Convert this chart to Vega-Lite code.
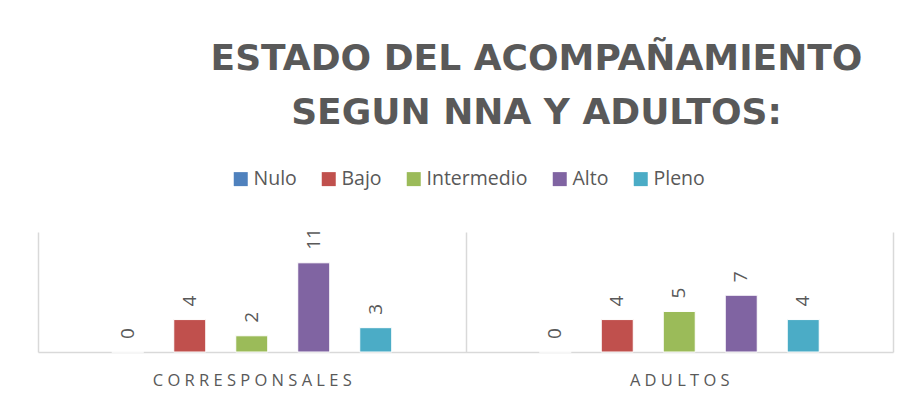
{
  "$schema": "https://vega.github.io/schema/vega-lite/v6.json",
  "width": 855,
  "height": 120,
  "autosize": {"type": "none"},
  "padding": {"left": 38, "top": 232, "right": 13, "bottom": 51},
  "background": "white",
  "title": {
    "text": ["ESTADO DEL ACOMPAÑAMIENTO", "SEGUN NNA Y ADULTOS:"],
    "font": "DejaVu Sans",
    "fontWeight": "bold",
    "fontSize": 36,
    "color": "#595959",
    "lineHeight": 54,
    "anchor": "middle",
    "frame": "group",
    "dx": 71,
    "baseline": "alphabetic",
    "offset": 9
  },
  "data": {
    "values": [
      {"grupo": "CORRESPONSALES", "nivel": "Nulo", "valor": 0},
      {"grupo": "CORRESPONSALES", "nivel": "Bajo", "valor": 4},
      {"grupo": "CORRESPONSALES", "nivel": "Intermedio", "valor": 2},
      {"grupo": "CORRESPONSALES", "nivel": "Alto", "valor": 11},
      {"grupo": "CORRESPONSALES", "nivel": "Pleno", "valor": 3},
      {"grupo": "ADULTOS", "nivel": "Nulo", "valor": 0},
      {"grupo": "ADULTOS", "nivel": "Bajo", "valor": 4},
      {"grupo": "ADULTOS", "nivel": "Intermedio", "valor": 5},
      {"grupo": "ADULTOS", "nivel": "Alto", "valor": 7},
      {"grupo": "ADULTOS", "nivel": "Pleno", "valor": 4}
    ]
  },
  "encoding": {
    "x": {
      "field": "grupo",
      "type": "nominal",
      "sort": ["CORRESPONSALES", "ADULTOS"],
      "scale": {"paddingInner": 0, "paddingOuter": 0},
      "axis": {
        "title": null,
        "labelAngle": 0,
        "ticks": false,
        "grid": true,
        "tickBand": "extent",
        "gridColor": "#d9d9d9",
        "gridWidth": 1.5,
        "domainColor": "#d9d9d9",
        "domainWidth": 1.5,
        "labelFont": "Open Sans",
        "labelFontSize": 16.5,
        "labelColor": "#595959",
        "labelPadding": 20,
        "labelBaseline": "top",
        "labelLimit": 500,
        "labelExpr": "join(split(datum.label, ''), ' ')"
      }
    },
    "xOffset": {
      "field": "nivel",
      "type": "nominal",
      "scale": {
        "domain": ["_inicio", "Nulo", "Bajo", "Intermedio", "Alto", "Pleno", "_fin"],
        "paddingInner": 0.484,
        "paddingOuter": 0.19
      }
    },
    "y": {
      "field": "valor",
      "type": "quantitative",
      "scale": {"domain": [0, 14.8], "nice": false},
      "axis": null
    }
  },
  "layer": [
    {
      "mark": {"type": "bar", "stroke": "white", "strokeWidth": 1},
      "encoding": {
        "color": {
          "field": "nivel",
          "type": "nominal",
          "scale": {
            "domain": ["Nulo", "Bajo", "Intermedio", "Alto", "Pleno"],
            "range": ["#4f81bd", "#c0504d", "#9bbb59", "#8064a2", "#4bacc6"]
          },
          "legend": {
            "title": null,
            "orient": "none",
            "direction": "horizontal",
            "legendX": 193,
            "legendY": -63,
            "padding": 0,
            "symbolType": "square",
            "symbolSize": 196,
            "symbolStrokeWidth": 0,
            "symbolOpacity": 1,
            "labelFont": "Open Sans",
            "labelFontSize": 19.5,
            "labelColor": "#595959",
            "labelOffset": 3,
            "columnPadding": 22
          }
        }
      }
    },
    {
      "mark": {
        "type": "text",
        "angle": 270,
        "align": "left",
        "baseline": "middle",
        "dx": 13,
        "font": "Open Sans",
        "fontSize": 19,
        "color": "#595959"
      },
      "encoding": {
        "text": {"field": "valor", "type": "quantitative"}
      }
    }
  ],
  "config": {
    "view": {"stroke": null}
  }
}
